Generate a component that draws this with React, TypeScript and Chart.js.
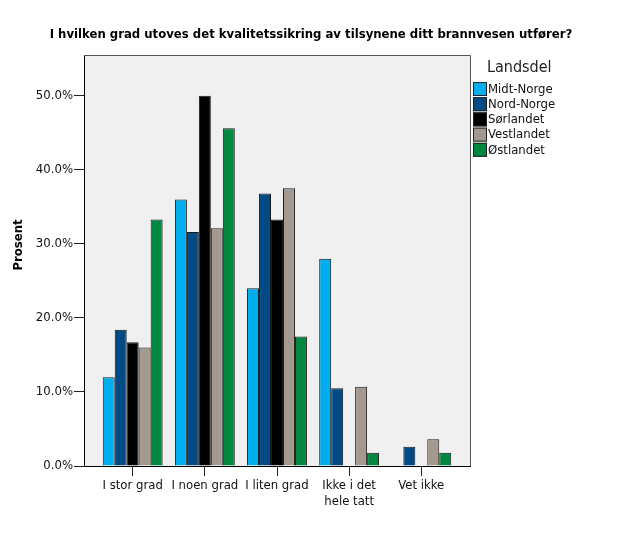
import React, { useEffect, useRef } from "react";
import { Chart, registerables } from "chart.js";

Chart.register(...registerables);

const TITLE = "I hvilken grad utoves det kvalitetssikring av tilsynene ditt brannvesen utfører?";
const Y_TITLE = "Prosent";
const LEGEND_TITLE = "Landsdel";
const CATEGORIES = ["I stor grad", "I noen grad", "I liten grad", "Ikke i det\nhele tatt", "Vet ikke"];
const SERIES_NAMES = ["Midt-Norge", "Nord-Norge", "Sørlandet", "Vestlandet", "Østlandet"];
const SERIES_COLORS = ["#00aeef", "#004b84", "#000000", "#a3998e", "#00873f"];
const MIDT_NORGE = [12.0, 36.0, 24.0, 28.0, 0];
const NORD_NORGE = [18.4, 31.6, 36.8, 10.5, 2.6];
const SORLANDET = [16.7, 50.0, 33.3, 0, 0];
const VESTLANDET = [16.0, 32.1, 37.5, 10.7, 3.6];
const OSTLANDET = [33.3, 45.6, 17.5, 1.8, 1.8];
const SERIES_VALUES = [MIDT_NORGE, NORD_NORGE, SORLANDET, VESTLANDET, OSTLANDET];
const Y_TICKS = [0, 10, 20, 30, 40, 50];
const Y_MAX = 55.5;

const FONT = '"DejaVu Sans Condensed", "Liberation Sans Narrow", "DejaVu Sans", sans-serif';

export default function App() {
  const ref = useRef<HTMLCanvasElement | null>(null);

  useEffect(() => {
    if (!ref.current) return;

    const decor = {
      id: "decor",
      beforeDraw(chart: any) {
        const { ctx, chartArea } = chart;
        ctx.save();
        ctx.fillStyle = "#f0f0f0";
        ctx.fillRect(chartArea.left, chartArea.top, chartArea.right - chartArea.left, chartArea.bottom - chartArea.top);
        ctx.restore();
      },
      afterDraw(chart: any) {
        const { ctx, chartArea } = chart;
        ctx.save();
        // frame
        ctx.strokeStyle = "#555";
        ctx.lineWidth = 1;
        ctx.beginPath();
        ctx.moveTo(chartArea.left, chartArea.top + 0.5);
        ctx.lineTo(chartArea.right + 0.5, chartArea.top + 0.5);
        ctx.lineTo(chartArea.right + 0.5, chartArea.bottom);
        ctx.stroke();
        // title
        ctx.fillStyle = "#000";
        ctx.font = "bold 13px " + FONT;
        ctx.textAlign = "center";
        ctx.textBaseline = "middle";
        ctx.fillText(TITLE, 311, 35);
        // y title
        ctx.save();
        ctx.translate(19, 245);
        ctx.rotate(-Math.PI / 2);
        ctx.fillText(Y_TITLE, 0, 0);
        ctx.restore();
        // legend
        const lx = chartArea.right + 3;
        ctx.textAlign = "left";
        ctx.font = "16px " + FONT;
        ctx.fillStyle = "#222";
        ctx.fillText(LEGEND_TITLE, lx + 14, 68);
        ctx.font = "13px " + FONT;
        SERIES_NAMES.forEach((name, i) => {
          const top = 82 + i * 15.2;
          ctx.fillStyle = SERIES_COLORS[i];
          ctx.fillRect(lx, top, 14, 14);
          ctx.strokeStyle = "#222";
          ctx.strokeRect(lx + 0.5, top + 0.5, 13, 13);
          ctx.fillStyle = "#111";
          ctx.fillText(name, lx + 15, top + 7.5);
        });
        ctx.restore();
      },
    };

    const chart = new Chart(ref.current, {
      type: "bar",
      data: {
        datasets: SERIES_NAMES.map((name, i) => ({
          label: name,
          data: SERIES_VALUES[i].map((v, j) => ({ x: j, y: v })),
          backgroundColor: SERIES_COLORS[i],
          borderColor: "#1a1a1a",
          borderWidth: 1,
          borderSkipped: "start",
          barPercentage: 1,
          categoryPercentage: 0.83,
        })),
      },
      options: {
        animation: false,
        responsive: true,
        maintainAspectRatio: false,
        layout: { padding: { top: 55, right: 159, bottom: 0, left: 0 } },
        plugins: {
          legend: { display: false },
          title: { display: false },
          tooltip: { enabled: false },
        },
        scales: {
          x: {
            type: "linear",
            offset: false,
            bounds: "ticks",
            min: -0.675,
            max: 4.675,
            afterBuildTicks: (scale: any) => {
              scale.ticks = CATEGORIES.map((_, i) => ({ value: i }));
            },
            afterFit: (scale: any) => {
              scale.height = 78;
            },
            grid: { offset: false, drawOnChartArea: false, drawTicks: true, tickLength: 10, color: "#222" },
            border: { display: true, color: "#000", width: 1 },
            ticks: {
              autoSkip: false,
              maxRotation: 0,
              padding: 2,
              color: "#111",
              font: { family: FONT, size: 13 },
              callback: (v: any) => {
                const s = CATEGORIES[Math.round(Number(v))] || "";
                return s.includes("\n") ? s.split("\n") : s;
              },
            },
          },
          y: {
            min: 0,
            max: Y_MAX,
            afterBuildTicks: (scale: any) => {
              scale.ticks = Y_TICKS.map((v) => ({ value: v }));
            },
            afterFit: (scale: any) => {
              scale.width = 84;
            },
            grid: { drawOnChartArea: false, drawTicks: true, tickLength: 10, color: "#222" },
            border: { display: true, color: "#000", width: 1 },
            ticks: {
              padding: 1,
              color: "#111",
              font: { family: FONT, size: 13 },
              callback: (v: any) => Number(v).toFixed(1) + "%",
            },
          },
        },
      },
      plugins: [decor],
    } as any);

    return () => chart.destroy();
  }, []);

  return (
    <div style={{ position: "absolute", left: 0, top: 0, width: 629, height: 544, background: "#fff" }}>
      <canvas ref={ref} />
    </div>
  );
}
